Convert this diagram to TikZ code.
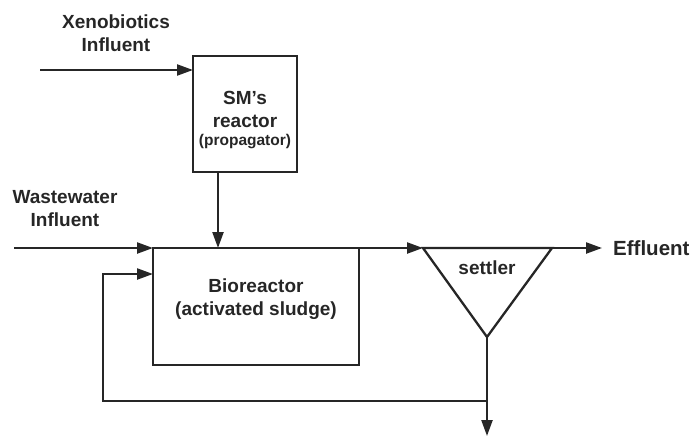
\documentclass[tikz,border=0pt]{standalone}
\usepackage{fontspec}
\setmainfont{Liberation Sans}
\usetikzlibrary{arrows.meta}
\begin{document}
\begin{tikzpicture}[x=1pt,y=-1pt,
  line/.style={line width=2.3pt, draw=black!85},
  arr/.style={line, -{Triangle[length=16pt,width=11pt]}},
  box/.style={line, rectangle, inner sep=0pt, outer sep=0pt},
  lbl/.style={font=\bfseries\fontsize{19}{23}\selectfont, align=center, text=black!85, inner sep=0pt}]
\useasboundingbox (0,0) rectangle (696,436);
% boxes
\node[box, minimum width=104pt, minimum height=116pt] (sm) at (245,114) {};
\node[box, minimum width=206pt, minimum height=117pt] (bio) at (256,306.5) {};
% texts
\node[lbl] (smt) at (245,109) {SM\textquoteright s\\reactor};
\node[lbl, font=\bfseries\fontsize{15.5}{18}\selectfont] (smp) at (245,142) {(propagator)};
\node[lbl] (biot) at (256,299.5) {Bioreactor\\(activated sludge)};
\node[lbl] (xeno) at (116,33.5) {Xenobiotics\\Influent};
\node[lbl] (ww) at (65,208.5) {Wastewater\\Influent};
\node[lbl] (sett) at (487,268) {settler};
\node[lbl, font=\bfseries\fontsize{20.5}{24}\selectfont, anchor=west] (eff) at (613,248) {Effluent};
% settler triangle
\coordinate (st1) at (423,248);
\coordinate (st2) at (552,248);
\coordinate (stv) at (487,337);
\draw[line, line join=miter] (st1) -- (st2) -- (stv) -- cycle;
% free ends
\coordinate (xin) at (40,70);
\coordinate (win) at (14,248);
\coordinate (effend) at (602,248);
\coordinate (bot) at (487,436);
\coordinate (j) at (487,401);
\coordinate (c1) at (103,401);
\coordinate (c2) at (103,274);
% connectors
\draw[arr] (xin) -- (xin -| sm.west);
\draw[arr] (sm.south -| 218,0) -- (218,248);
\draw[arr] (win) -- (bio.north west);
\draw[arr] (bio.north east) -- (st1);
\draw[arr] (st2) -- (effend);
\draw[arr] (stv) -- (bot);
\draw[arr] (j) -- (c1) -- (c2) -- (c2 -| bio.west);
\end{tikzpicture}
\end{document}
